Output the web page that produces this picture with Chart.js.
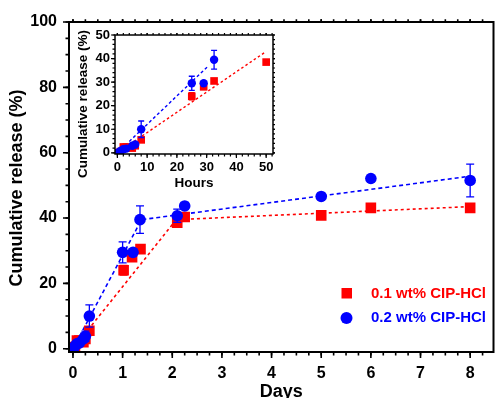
<!DOCTYPE html>
<html>
<head>
<meta charset="utf-8">
<script src="https://cdn.jsdelivr.net/npm/chart.js@4.4.0/dist/chart.umd.min.js"></script>
<style>
  html, body { margin: 0; padding: 0; background: #fff; }
  #wrap { position: relative; width: 501px; height: 398px; }
  #inset { position: absolute; left: 75px; top: 25px; width: 205px; height: 170px; background: #fff; }
</style>
</head>
<body>
<div id="wrap">
  <canvas id="mainChart" width="501" height="398"></canvas>
  <div id="inset"><canvas id="insetChart" width="205" height="170"></canvas></div>
</div>
<script>
// main plot, time in days
const redDays = [0, 0.04, 0.08, 0.13, 0.21, 0.25, 0.33, 1.02, 1.19, 1.36, 2.1, 2.25, 5, 6, 8];
const redMain = [0, 0.5, 2.5, 2.5, 2, 3, 5.5, 24, 28, 30.5, 38.6, 40.3, 40.8, 43.1, 43.1];
const redMainErr = [0, 0, 0, 0, 0, 0, 0, 1.5, 0, 0, 0, 0, 0, 0, 0];
const blueDays = [0, 0.04, 0.08, 0.13, 0.21, 0.25, 0.33, 1.0, 1.21, 1.35, 2.1, 2.25, 5, 6, 8];
const blueMain = [0, 0.8, 1.5, 1.8, 3, 3.8, 10, 29.5, 29.5, 39.5, 40.7, 43.7, 46.6, 52.1, 51.5];
const blueMainErr = [0, 0, 0, 0, 0, 1.6, 3.4, 3.2, 0, 4.2, 2, 1, 0, 0, 5];
const redFitDays = [0, 2.08, 8];
const redFitMain = [0, 39.5, 43.5];
const blueFitDays = [0, 1.38, 8];
const blueFitMain = [0, 39.5, 52.8];

// inset, time in hours
const redHours = [0, 1, 2, 3, 5, 6, 8, 25, 29, 32.5, 50];
const redInset = [0, 0.5, 2.5, 2.5, 2, 3, 5.5, 24, 28, 30.5, 38.5];
const redInsetErr = [0, 0, 0, 0, 0, 0, 0, 1.5, 0, 0, 0];
const blueHours = [0, 1, 2, 3, 5, 6, 8, 25, 29, 32.5];
const blueInset = [0, 0.8, 1.5, 1.8, 3, 3.5, 10, 29.5, 29.5, 39.5];
const blueInsetErr = [0, 0, 0, 0, 0.5, 0.5, 3.5, 3, 0, 4];
const redFitHours = [0, 50];
const redFitInset = [0, 43];
const blueFitHours = [0, 30.5];
const blueFitInset = [0, 36.8];

const seriesNames = ['0.1 wt% CIP-HCl', '0.2 wt% CIP-HCl'];
const RED = '#ff0000', BLUE = '#0000ff';
const FONT = "'Liberation Sans', Arial, sans-serif";

const pts = (xs, ys) => xs.map((x, i) => ({x: x, y: ys[i]}));

const errorBars = {
  id: 'errorBars',
  afterDatasetsDraw(chart) {
    const ctx = chart.ctx, y = chart.scales.y;
    chart.data.datasets.forEach((ds, di) => {
      if (!ds.errors) return;
      const meta = chart.getDatasetMeta(di);
      ctx.save();
      ctx.strokeStyle = ds.backgroundColor;
      ctx.lineWidth = 1.3;
      meta.data.forEach((el, i) => {
        const e = ds.errors[i];
        if (!e) return;
        const v = ds.data[i].y;
        const top = y.getPixelForValue(v + e), bot = y.getPixelForValue(v - e);
        const w = ds.capWidth;
        ctx.beginPath();
        ctx.moveTo(el.x, top); ctx.lineTo(el.x, bot);
        ctx.moveTo(el.x - w, top); ctx.lineTo(el.x + w, top);
        ctx.moveTo(el.x - w, bot); ctx.lineTo(el.x + w, bot);
        ctx.stroke();
      });
      ctx.restore();
    });
  }
};

const frameTicks = {
  id: 'frameTicks',
  afterDraw(chart, args, o) {
    const {ctx, chartArea: a} = chart;
    ctx.save();
    ctx.strokeStyle = '#000';
    const mark = (scale, step, len, mirrorLen) => {
      ctx.lineWidth = o.tickWidth;
      ctx.beginPath();
      for (let i = Math.ceil(scale.min / step - 1e-6); i * step <= scale.max + 1e-6; i++) {
        const p = scale.getPixelForValue(i * step);
        if (scale.axis === 'x') {
          ctx.moveTo(p, a.bottom); ctx.lineTo(p, a.bottom + len);
          if (mirrorLen) { ctx.moveTo(p, a.top); ctx.lineTo(p, a.top - mirrorLen); }
        } else {
          ctx.moveTo(a.left, p); ctx.lineTo(a.left - len, p);
          if (o.rightTicks && mirrorLen) { ctx.moveTo(a.right, p); ctx.lineTo(a.right + mirrorLen, p); }
        }
      }
      ctx.stroke();
    };
    const sx = chart.scales.x, sy = chart.scales.y;
    mark(sx, o.xMinor, o.minorLen, o.minorLen * 0.8);
    mark(sx, o.xMajor, o.majorLen, o.minorLen * 0.8);
    mark(sy, o.yMinor, o.minorLen, o.minorLen * 0.8);
    mark(sy, o.yMajor, o.majorLen, o.minorLen * 0.8);
    ctx.lineWidth = o.frameWidth;
    ctx.strokeRect(a.left, a.top, a.right - a.left, a.bottom - a.top);
    // axis titles
    ctx.fillStyle = '#000';
    ctx.font = 'bold ' + o.titleSize + 'px ' + FONT;
    ctx.textAlign = 'center';
    ctx.textBaseline = 'middle';
    ctx.fillText(o.xTitle, (a.left + a.right) / 2, o.xTitleY);
    ctx.save();
    ctx.translate(o.yTitleX, o.yTitleY != null ? o.yTitleY : (a.top + a.bottom) / 2);
    ctx.rotate(-Math.PI / 2);
    ctx.fillText(o.yTitle, 0, 0);
    ctx.restore();
    ctx.restore();
  }
};

const legendBox = {
  id: 'legendBox',
  afterDraw(chart) {
    const ctx = chart.ctx;
    ctx.save();
    ctx.font = 'bold 15px ' + FONT;
    ctx.textBaseline = 'middle';
    ctx.textAlign = 'left';
    ctx.fillStyle = RED;
    ctx.fillRect(341.5, 288, 10.5, 10.5);
    ctx.fillText(seriesNames[0], 371, 293.5);
    ctx.fillStyle = BLUE;
    ctx.beginPath();
    ctx.arc(346.5, 318, 6, 0, Math.PI * 2);
    ctx.fill();
    ctx.fillText(seriesNames[1], 371, 318);
    ctx.restore();
  }
};

function tickFont(size) {
  return {family: FONT, size: size, weight: 'bold'};
}

const mainConfig = {
  type: 'scatter',
  data: {
    datasets: [
      { type: 'line', data: pts(redFitDays, redFitMain), borderColor: RED, borderWidth: 1.6,
        borderDash: [3, 3], pointRadius: 0, fill: false, order: 4 },
      { type: 'line', data: pts(blueFitDays, blueFitMain), borderColor: BLUE, borderWidth: 1.6,
        borderDash: [4, 3], pointRadius: 0, fill: false, order: 3 },
      { label: seriesNames[0], data: pts(redDays, redMain), errors: redMainErr, capWidth: 4,
        pointStyle: 'rect', pointRadius: 7.5, backgroundColor: RED, borderWidth: 0, order: 2 },
      { label: seriesNames[1], data: pts(blueDays, blueMain), errors: blueMainErr, capWidth: 4,
        pointStyle: 'circle', pointRadius: 5.8, backgroundColor: BLUE, borderWidth: 0, order: 1 }
    ]
  },
  options: {
    responsive: false,
    animation: false,
    events: [],
    layout: { padding: {left: 0, right: 1, top: 22, bottom: 0} },
    plugins: {
      legend: { display: false },
      tooltip: { enabled: false },
      frameTicks: { xMajor: 1, xMinor: 0.25, yMajor: 20, yMinor: 5, majorLen: 6, minorLen: 3.5,
        tickWidth: 1.6, frameWidth: 2, titleSize: 18, xTitle: 'Days', xTitleY: 392,
        yTitle: 'Cumulative release (%)', yTitleX: 17, yTitleY: 188, rightTicks: false }
    },
    scales: {
      x: {
        type: 'linear', min: -0.08, max: 8.47,
        grid: { display: false, drawTicks: true, tickLength: 7 },
        border: { display: false },
        ticks: { stepSize: 1, includeBounds: false, autoSkip: false, maxRotation: 0,
          color: '#000', font: tickFont(16), padding: 5 },
        afterFit(s) { s.height = 46; }
      },
      y: {
        min: -1, max: 100,
        grid: { display: false, drawTicks: true, tickLength: 7 },
        border: { display: false },
        ticks: { stepSize: 20, includeBounds: false, color: '#000', font: tickFont(16), padding: 5 },
        afterFit(s) { s.width = 69; }
      }
    }
  },
  plugins: [errorBars, frameTicks, legendBox]
};

const insetConfig = {
  type: 'scatter',
  data: {
    datasets: [
      { type: 'line', data: pts(redFitHours, redFitInset), borderColor: RED, borderWidth: 1.4,
        borderDash: [2.5, 2.5], pointRadius: 0, fill: false, order: 4 },
      { type: 'line', data: pts(blueFitHours, blueFitInset), borderColor: BLUE, borderWidth: 1.4,
        borderDash: [3, 2.5], pointRadius: 0, fill: false, order: 3 },
      { label: seriesNames[0], data: pts(redHours, redInset), errors: redInsetErr, capWidth: 3,
        pointStyle: 'rect', pointRadius: 5.4, backgroundColor: RED, borderWidth: 0, order: 2 },
      { label: seriesNames[1], data: pts(blueHours, blueInset), errors: blueInsetErr, capWidth: 3,
        pointStyle: 'circle', pointRadius: 4.2, backgroundColor: BLUE, borderWidth: 0, order: 1 }
    ]
  },
  options: {
    responsive: false,
    animation: false,
    events: [],
    layout: { padding: {left: 0, right: 7, top: 10, bottom: 0} },
    plugins: {
      legend: { display: false },
      tooltip: { enabled: false },
      frameTicks: { xMajor: 10, xMinor: 2, yMajor: 10, yMinor: 2, majorLen: 4, minorLen: 2.5,
        tickWidth: 1.2, frameWidth: 1.5, titleSize: 13.5, xTitle: 'Hours', xTitleY: 158,
        yTitle: 'Cumulative release (%)', yTitleX: 8, yTitleY: 79, rightTicks: true }
    },
    scales: {
      x: {
        type: 'linear', min: -0.8, max: 52.3,
        grid: { display: false, drawTicks: true, tickLength: 4 },
        border: { display: false },
        ticks: { stepSize: 10, includeBounds: false, autoSkip: false, maxRotation: 0,
          color: '#000', font: tickFont(13), padding: 2 },
        afterFit(s) { s.height = 41; }
      },
      y: {
        min: -0.5, max: 50,
        grid: { display: false, drawTicks: true, tickLength: 4 },
        border: { display: false },
        ticks: { stepSize: 10, includeBounds: false, color: '#000', font: tickFont(13), padding: 1 },
        afterFit(s) { s.width = 40; }
      }
    }
  },
  plugins: [errorBars, frameTicks]
};

const mainChart = new Chart(document.getElementById('mainChart'), mainConfig);
const insetChart = new Chart(document.getElementById('insetChart'), insetConfig);
</script>
</body>
</html>
